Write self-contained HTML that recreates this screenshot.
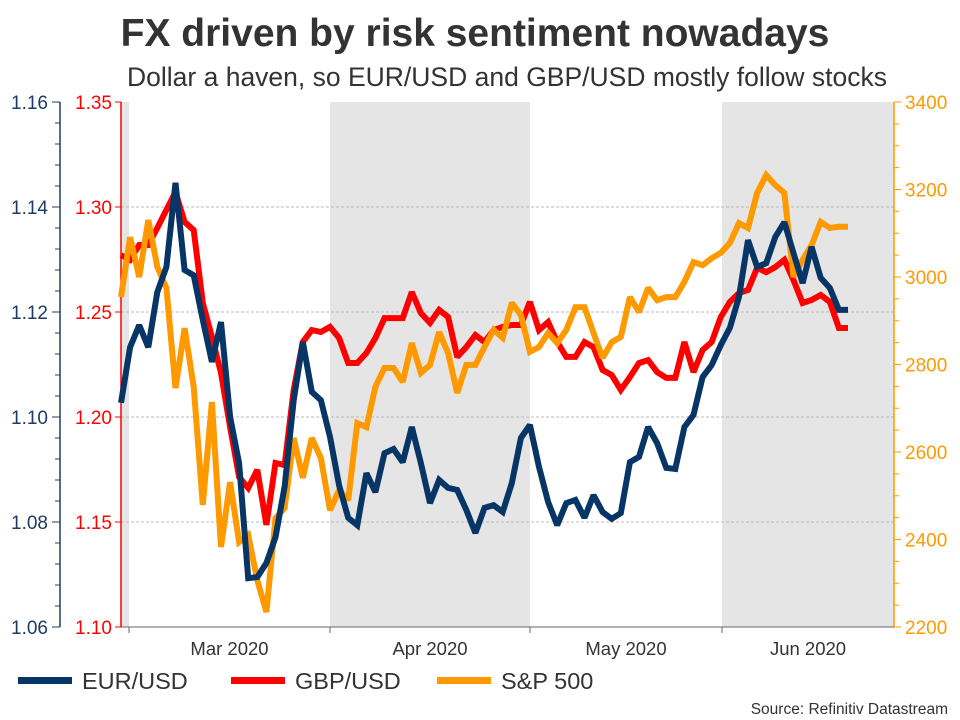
<!DOCTYPE html>
<html><head><meta charset="utf-8">
<style>
html,body{margin:0;padding:0;background:#fff;}
svg{display:block;font-family:"Liberation Sans",Arial,sans-serif;}
</style></head>
<body>
<svg id="chart" width="960" height="720" viewBox="0 0 960 720">
  <text x="475" y="46" text-anchor="middle" font-size="39" font-weight="bold" fill="#333">FX driven by risk sentiment nowadays</text>
  <text x="507" y="86" text-anchor="middle" font-size="26.5" fill="#333">Dollar a haven, so EUR/USD and GBP/USD mostly follow stocks</text>
  <g id="bands"></g>
  <g id="grid"></g>
  <g id="axes"></g>
  <g id="series"></g>
  <g>
    <g><rect x="18" y="677" width="54" height="7" fill="#063566"/><text x="82" y="689" font-size="23.5" fill="#333">EUR/USD</text></g>
    <g><rect x="231" y="677" width="54" height="7" fill="#ff0000"/><text x="295" y="689" font-size="23.5" fill="#333">GBP/USD</text></g>
    <g><rect x="437" y="677" width="54" height="7" fill="#ff9900"/><text x="501" y="689" font-size="23.5" fill="#333">S&amp;P 500</text></g>
  </g>
  <text x="948" y="714" text-anchor="end" font-size="15.5" fill="#333">Source: Refinitiv Datastream</text>
</svg>
<script>
const eurusd = [1.1027,1.1133,1.1175,1.1133,1.1238,1.1286,1.1446,1.128,1.127,1.1185,1.1105,1.1181,1.1,1.0912,1.0693,1.0695,1.0722,1.0771,1.0867,1.1032,1.1143,1.1048,1.1032,1.0962,1.087,1.0808,1.0794,1.0893,1.0857,1.0931,1.0939,1.0914,1.0981,1.0912,1.0836,1.088,1.0865,
1.0861,1.0823,1.0779,1.0827,1.0832,1.0819,1.0874,1.096,1.0985,1.0905,1.0838,1.0794,1.0836,1.0842,1.0808,1.0851,1.0819,1.0806,1.0817,1.0914,1.0924,1.0981,1.095,1.0903,1.0901,1.0981,1.1004,1.1076,1.1099,1.1137,1.117,1.1229,1.1337,1.1286,1.1293,1.1343,1.1371,1.1312,1.1255,1.1324,1.1265,1.1246,1.1204,1.1204];
const gbpusd = [1.2771,1.2748,1.2819,1.2819,1.29,1.2986,1.3071,1.2929,1.289,1.2543,1.2381,1.221,1.1952,1.1714,1.1662,1.1748,1.1486,1.1781,1.1771,1.2129,1.2357,1.2414,1.2405,1.2429,1.2376,1.2257,1.2257,1.2305,1.2376,1.2471,1.2471,1.2471,1.2595,1.2495,1.2448,1.251,1.2476,
1.2286,1.2333,1.239,1.2357,1.2414,1.2429,1.2438,1.2438,1.2548,1.2414,1.2452,1.2357,1.2286,1.2286,1.2357,1.2333,1.2224,1.22,1.2129,1.219,1.2257,1.2271,1.2214,1.2186,1.2186,1.2357,1.2214,1.2319,1.2357,1.2476,1.2548,1.259,1.2605,1.271,1.269,1.2714,1.2748,1.2652,1.2543,1.2557,1.2581,1.2548,1.2424,1.2424];
const sp500 = [2954,3091,3000,3130,3023,2975,2746,2883,2749,2479,2714,2383,2531,2394,2410,2307,2234,2449,2472,2632,2541,2632,2586,2467,2513,2490,2666,2657,2749,2792,2792,2760,2849,2781,2799,2874,2826,
2735,2799,2799,2840,2879,2861,2941,2913,2829,2840,2872,2849,2879,2931,2931,2872,2815,2851,2863,2954,2920,2975,2947,2954,2954,2989,3034,3027,3043,3055,3078,3123,3112,3192,3233,3210,3192,3000,3039,3073,3126,3112,3115,3115];
const eurTicks = ["1.06","1.08","1.10","1.12","1.14","1.16"];
const gbpTicks = ["1.10","1.15","1.20","1.25","1.30","1.35"];
const spTicks = ["2200","2400","2600","2800","3000","3200","3400"];
const monthLabels = ["Mar 2020","Apr 2020","May 2020","Jun 2020"];

const NS="http://www.w3.org/2000/svg";
const L=121,R=894,T=102,B=627,X0=121,X1=848;
const xs=i=>X0+(X1-X0)*i/(eurusd.length-1);
const yE=v=>B-(v-1.06)/0.10*(B-T);
const yG=v=>B-(v-1.10)/0.25*(B-T);
const yS=v=>B-(v-2200)/1200*(B-T);
function mk(tag,attrs,parent){const e=document.createElementNS(NS,tag);for(const k in attrs)e.setAttribute(k,attrs[k]);parent.appendChild(e);return e;}
const bands=document.getElementById('bands'),grid=document.getElementById('grid'),axes=document.getElementById('axes'),series=document.getElementById('series');
const mb=[121,129,330,530,722,894];
[[0,1],[2,3],[4,5]].forEach(([a,b])=>{
  const r=mk('rect',{x:mb[a],y:T,width:mb[b]-mb[a],height:B-T,fill:'#e5e5e5'},bands);
  
  
});
gbpTicks.forEach((t,i)=>{
  const y=yG(parseFloat(t));
  if(i>0&&i<gbpTicks.length-1){const g=mk('line',{x1:L,x2:R,y1:y,y2:y,stroke:'#bbb','stroke-dasharray':'3,2','stroke-width':1},grid);
  
  }
  const tx=mk('text',{x:112,y:y+7,'text-anchor':'end','font-size':19,fill:'#ff0000'},axes);tx.textContent=t;
  
  
  mk('line',{x1:L-6,x2:L,y1:y,y2:y,stroke:'#ff0000'},axes);
});
mk('line',{x1:L,x2:L,y1:T,y2:B,stroke:'#ff0000','stroke-width':1.5},axes);
eurTicks.forEach(t=>{
  const y=yE(parseFloat(t));
  const tx=mk('text',{x:48,y:y+7,'text-anchor':'end','font-size':19,fill:'#1f3b63'},axes);tx.textContent=t;
  
  
});
for(let k=0;k<=25;k++){const y=T+(B-T)*k/25;mk('line',{x1:k%5==0?52:55,x2:60,y1:y,y2:y,stroke:'#1f3b63'},axes);}
mk('line',{x1:60,x2:60,y1:T,y2:B,stroke:'#1f3b63','stroke-width':1.5},axes);
spTicks.forEach(t=>{
  const y=yS(parseFloat(t));
  const tx=mk('text',{x:905,y:y+7,'font-size':19,fill:'#ff9900'},axes);tx.textContent=t;
  
  
});
for(let k=0;k<=24;k++){const y=T+(B-T)*k/24;mk('line',{x1:R,x2:k%4==0?901:899,y1:y,y2:y,stroke:'#ff9900'},axes);}
mk('line',{x1:R,x2:R,y1:T,y2:B,stroke:'#ff9900','stroke-width':1.5},axes);
mk('line',{x1:L,x2:R,y1:B,y2:B,stroke:'#666'},axes);
[129,330,530,722].forEach(x=>mk('line',{x1:x,x2:x,y1:B,y2:B+6,stroke:'#666'},axes));
monthLabels.forEach((m,i)=>{
  const x=(mb[i+1]+mb[i+2])/2;
  const tx=mk('text',{x:x,y:655,'text-anchor':'middle','font-size':18.5,fill:'#333'},axes);tx.textContent=m;
  
  
});
function line(arr,yf,color,name){
  const d=arr.map((v,i)=>(i?'L':'M')+xs(i).toFixed(1)+','+yf(v).toFixed(1)).join('');
  const p=mk('path',{d:d,fill:'none',stroke:color,'stroke-width':6,'stroke-linejoin':'miter','stroke-miterlimit':2},series);
  
  
}
line(gbpusd,yG,'#ff0000','gbpusd-line');
line(sp500,yS,'#ff9900','sp500-line');
line(eurusd,yE,'#063566','eurusd-line');
</script>
</body></html>
